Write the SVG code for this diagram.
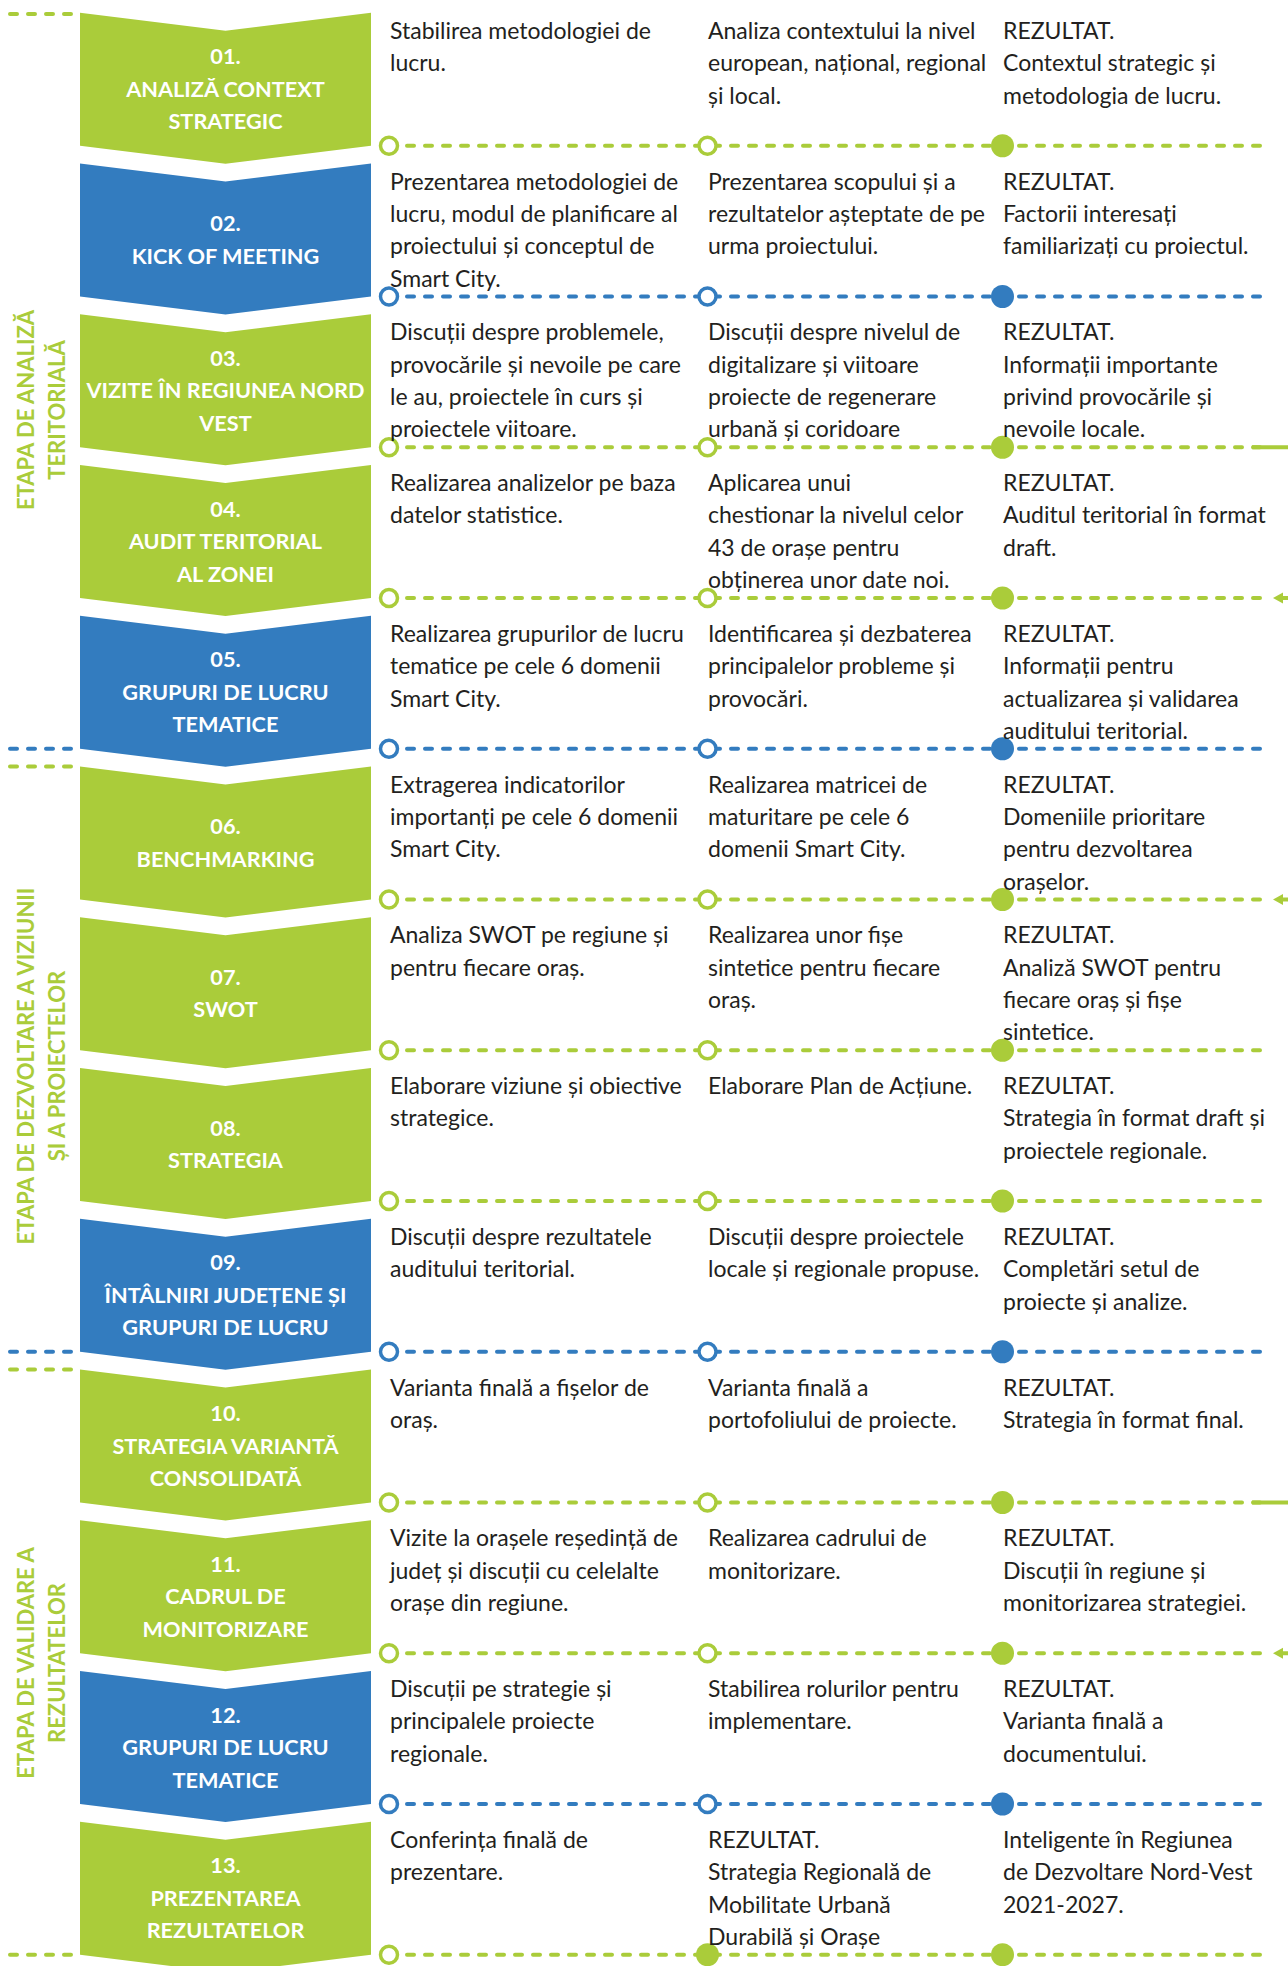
<svg xmlns="http://www.w3.org/2000/svg" width="1288" height="1966" viewBox="0 0 1288 1966">
<defs>
<style>
.bg{fill:#ffffff}
.cg{fill:#AACC3A}
.cb{fill:#337CBF}
.lbl{font-family:Lato,"Liberation Sans",sans-serif;font-weight:bold;font-size:21.7px;fill:#ffffff;text-anchor:middle}
.txt{font-family:Lato,"Liberation Sans",sans-serif;font-size:23px;fill:#231f20}
.stage{font-family:Lato,"Liberation Sans",sans-serif;font-weight:bold;font-size:22px;fill:#AACC3A;text-anchor:middle}
.dg{stroke:#AACC3A;stroke-width:4;stroke-dasharray:7 11;stroke-linecap:round;fill:none}
.db{stroke:#337CBF;stroke-width:4;stroke-dasharray:7 11;stroke-linecap:round;fill:none}
.sg{stroke:#AACC3A;stroke-width:4;fill:none}
.ag{fill:#AACC3A}
.hg{fill:#ffffff;stroke:#AACC3A;stroke-width:3.5}
.hb{fill:#ffffff;stroke:#337CBF;stroke-width:3.5}
.fg{fill:#AACC3A}
.fb{fill:#337CBF}
</style>
</defs>
<rect class="bg" x="0" y="0" width="1288" height="1966"/>

<g id="connectors">
<path class="dg" d="M10,14 H80"/>
<path class="db" d="M10,748.75 H80"/>
<path class="dg" d="M10,766.5 H80"/>
<path class="db" d="M10,1351.75 H80"/>
<path class="dg" d="M10,1369.5 H80"/>
<path class="dg" d="M10,1954.75 H80"/>

<path class="dg" d="M389,145.75 H1261"/>
<path class="db" d="M389,296.5 H1261"/>
<path class="dg" d="M389,447.25 H1261"/>
<path class="sg" d="M1252,447.25 H1288"/>
<path class="dg" d="M389,598 H1261"/>
<path class="sg" d="M1280,598 H1288"/>
<polygon class="ag" points="1273,598 1283,592.5 1283,603.5"/>
<path class="db" d="M389,748.75 H1261"/>
<path class="dg" d="M389,899.5 H1261"/>
<path class="sg" d="M1280,899.5 H1288"/>
<polygon class="ag" points="1273,899.5 1283,894 1283,905"/>
<path class="dg" d="M389,1050.25 H1261"/>
<path class="dg" d="M389,1201 H1261"/>
<path class="db" d="M389,1351.75 H1261"/>
<path class="dg" d="M389,1502.5 H1261"/>
<path class="sg" d="M1252,1502.5 H1288"/>
<path class="dg" d="M389,1653.25 H1261"/>
<path class="sg" d="M1280,1653.25 H1288"/>
<polygon class="ag" points="1273,1653.25 1283,1647.75 1283,1658.75"/>
<path class="db" d="M389,1804 H1261"/>
<path class="dg" d="M389,1954.75 H1261"/>

<circle class="hg" cx="389" cy="145.75" r="8.5"/><circle class="hg" cx="707.5" cy="145.75" r="8.5"/><circle class="fg" cx="1002.5" cy="145.75" r="11.5"/>
<circle class="hb" cx="389" cy="296.5" r="8.5"/><circle class="hb" cx="707.5" cy="296.5" r="8.5"/><circle class="fb" cx="1002.5" cy="296.5" r="11.5"/>
<circle class="hg" cx="389" cy="447.25" r="8.5"/><circle class="hg" cx="707.5" cy="447.25" r="8.5"/><circle class="fg" cx="1002.5" cy="447.25" r="11.5"/>
<circle class="hg" cx="389" cy="598" r="8.5"/><circle class="hg" cx="707.5" cy="598" r="8.5"/><circle class="fg" cx="1002.5" cy="598" r="11.5"/>
<circle class="hb" cx="389" cy="748.75" r="8.5"/><circle class="hb" cx="707.5" cy="748.75" r="8.5"/><circle class="fb" cx="1002.5" cy="748.75" r="11.5"/>
<circle class="hg" cx="389" cy="899.5" r="8.5"/><circle class="hg" cx="707.5" cy="899.5" r="8.5"/><circle class="fg" cx="1002.5" cy="899.5" r="11.5"/>
<circle class="hg" cx="389" cy="1050.25" r="8.5"/><circle class="hg" cx="707.5" cy="1050.25" r="8.5"/><circle class="fg" cx="1002.5" cy="1050.25" r="11.5"/>
<circle class="hg" cx="389" cy="1201" r="8.5"/><circle class="hg" cx="707.5" cy="1201" r="8.5"/><circle class="fg" cx="1002.5" cy="1201" r="11.5"/>
<circle class="hb" cx="389" cy="1351.75" r="8.5"/><circle class="hb" cx="707.5" cy="1351.75" r="8.5"/><circle class="fb" cx="1002.5" cy="1351.75" r="11.5"/>
<circle class="hg" cx="389" cy="1502.5" r="8.5"/><circle class="hg" cx="707.5" cy="1502.5" r="8.5"/><circle class="fg" cx="1002.5" cy="1502.5" r="11.5"/>
<circle class="hg" cx="389" cy="1653.25" r="8.5"/><circle class="hg" cx="707.5" cy="1653.25" r="8.5"/><circle class="fg" cx="1002.5" cy="1653.25" r="11.5"/>
<circle class="hb" cx="389" cy="1804" r="8.5"/><circle class="hb" cx="707.5" cy="1804" r="8.5"/><circle class="fb" cx="1002.5" cy="1804" r="11.5"/>
<circle class="hg" cx="389" cy="1954.75" r="8.5"/><circle class="fg" cx="707.5" cy="1954.75" r="11.5"/><circle class="fg" cx="1002.5" cy="1954.75" r="11.5"/>
</g>

<g id="stage-1">
<text class="stage" transform="translate(34,410) rotate(-90)">ETAPA DE ANALIZĂ</text>
<text class="stage" transform="translate(65,410) rotate(-90)">TERITORIALĂ</text>
</g>
<g id="stage-2">
<text class="stage" transform="translate(34,1066) rotate(-90)">ETAPA DE DEZVOLTARE A VIZIUNII</text>
<text class="stage" transform="translate(65,1066) rotate(-90)">ȘI A PROIECTELOR</text>
</g>
<g id="stage-3">
<text class="stage" transform="translate(34,1663) rotate(-90)">ETAPA DE VALIDARE A</text>
<text class="stage" transform="translate(65,1663) rotate(-90)">REZULTATELOR</text>
</g>

<g id="step-01">
<path class="cg" d="M80,12.75 L225.5,30.75 L371,12.75 L371,145.75 L225.5,163.75 L80,145.75 Z"/>
<text class="lbl"><tspan x="225.5" y="64.25">01.</tspan><tspan x="225.5" y="96.75">ANALIZĂ CONTEXT</tspan><tspan x="225.5" y="129.25">STRATEGIC</tspan></text>
</g>
<g id="step-02">
<path class="cb" d="M80,163.5 L225.5,181.5 L371,163.5 L371,296.5 L225.5,314.5 L80,296.5 Z"/>
<text class="lbl"><tspan x="225.5" y="231">02.</tspan><tspan x="225.5" y="263.5">KICK OF MEETING</tspan></text>
</g>
<g id="step-03">
<path class="cg" d="M80,314.25 L225.5,332.25 L371,314.25 L371,447.25 L225.5,465.25 L80,447.25 Z"/>
<text class="lbl"><tspan x="225.5" y="365.75">03.</tspan><tspan x="225.5" y="398.25">VIZITE ÎN REGIUNEA NORD</tspan><tspan x="225.5" y="430.75">VEST</tspan></text>
</g>
<g id="step-04">
<path class="cg" d="M80,465 L225.5,483 L371,465 L371,598 L225.5,616 L80,598 Z"/>
<text class="lbl"><tspan x="225.5" y="516.5">04.</tspan><tspan x="225.5" y="549">AUDIT TERITORIAL</tspan><tspan x="225.5" y="581.5">AL ZONEI</tspan></text>
</g>
<g id="step-05">
<path class="cb" d="M80,615.75 L225.5,633.75 L371,615.75 L371,748.75 L225.5,766.75 L80,748.75 Z"/>
<text class="lbl"><tspan x="225.5" y="667.25">05.</tspan><tspan x="225.5" y="699.75">GRUPURI DE LUCRU</tspan><tspan x="225.5" y="732.25">TEMATICE</tspan></text>
</g>
<g id="step-06">
<path class="cg" d="M80,766.5 L225.5,784.5 L371,766.5 L371,899.5 L225.5,917.5 L80,899.5 Z"/>
<text class="lbl"><tspan x="225.5" y="834">06.</tspan><tspan x="225.5" y="866.5">BENCHMARKING</tspan></text>
</g>
<g id="step-07">
<path class="cg" d="M80,917.25 L225.5,935.25 L371,917.25 L371,1050.25 L225.5,1068.25 L80,1050.25 Z"/>
<text class="lbl"><tspan x="225.5" y="984.75">07.</tspan><tspan x="225.5" y="1017.25">SWOT</tspan></text>
</g>
<g id="step-08">
<path class="cg" d="M80,1068 L225.5,1086 L371,1068 L371,1201 L225.5,1219 L80,1201 Z"/>
<text class="lbl"><tspan x="225.5" y="1135.5">08.</tspan><tspan x="225.5" y="1168">STRATEGIA</tspan></text>
</g>
<g id="step-09">
<path class="cb" d="M80,1218.75 L225.5,1236.75 L371,1218.75 L371,1351.75 L225.5,1369.75 L80,1351.75 Z"/>
<text class="lbl"><tspan x="225.5" y="1270.25">09.</tspan><tspan x="225.5" y="1302.75">ÎNTÂLNIRI JUDEȚENE ȘI</tspan><tspan x="225.5" y="1335.25">GRUPURI DE LUCRU</tspan></text>
</g>
<g id="step-10">
<path class="cg" d="M80,1369.5 L225.5,1387.5 L371,1369.5 L371,1502.5 L225.5,1520.5 L80,1502.5 Z"/>
<text class="lbl"><tspan x="225.5" y="1421">10.</tspan><tspan x="225.5" y="1453.5">STRATEGIA VARIANTĂ</tspan><tspan x="225.5" y="1486">CONSOLIDATĂ</tspan></text>
</g>
<g id="step-11">
<path class="cg" d="M80,1520.25 L225.5,1538.25 L371,1520.25 L371,1653.25 L225.5,1671.25 L80,1653.25 Z"/>
<text class="lbl"><tspan x="225.5" y="1571.75">11.</tspan><tspan x="225.5" y="1604.25">CADRUL DE</tspan><tspan x="225.5" y="1636.75">MONITORIZARE</tspan></text>
</g>
<g id="step-12">
<path class="cb" d="M80,1671 L225.5,1689 L371,1671 L371,1804 L225.5,1822 L80,1804 Z"/>
<text class="lbl"><tspan x="225.5" y="1722.5">12.</tspan><tspan x="225.5" y="1755">GRUPURI DE LUCRU</tspan><tspan x="225.5" y="1787.5">TEMATICE</tspan></text>
</g>
<g id="step-13">
<path class="cg" d="M80,1821.75 L225.5,1839.75 L371,1821.75 L371,1954.75 L225.5,1972.75 L80,1954.75 Z"/>
<text class="lbl"><tspan x="225.5" y="1873.25">13.</tspan><tspan x="225.5" y="1905.75">PREZENTAREA</tspan><tspan x="225.5" y="1938.25">REZULTATELOR</tspan></text>
</g>

<g id="row-01-text">
<text class="txt" y="38.75"><tspan x="390">Stabilirea metodologiei de</tspan><tspan x="390" dy="32.4">lucru.</tspan></text>
<text class="txt" y="38.75"><tspan x="708">Analiza contextului la nivel</tspan><tspan x="708" dy="32.4">european, național, regional</tspan><tspan x="708" dy="32.4">și local.</tspan></text>
<text class="txt" y="38.75"><tspan x="1003">REZULTAT.</tspan><tspan x="1003" dy="32.4">Contextul strategic și</tspan><tspan x="1003" dy="32.4">metodologia de lucru.</tspan></text>
</g>
<g id="row-02-text">
<text class="txt" y="189.5"><tspan x="390">Prezentarea metodologiei de</tspan><tspan x="390" dy="32.4">lucru, modul de planificare al</tspan><tspan x="390" dy="32.4">proiectului și conceptul de</tspan><tspan x="390" dy="32.4">Smart City.</tspan></text>
<text class="txt" y="189.5"><tspan x="708">Prezentarea scopului și a</tspan><tspan x="708" dy="32.4">rezultatelor așteptate de pe</tspan><tspan x="708" dy="32.4">urma proiectului.</tspan></text>
<text class="txt" y="189.5"><tspan x="1003">REZULTAT.</tspan><tspan x="1003" dy="32.4">Factorii interesați</tspan><tspan x="1003" dy="32.4">familiarizați cu proiectul.</tspan></text>
</g>
<g id="row-03-text">
<text class="txt" y="340.25"><tspan x="390">Discuții despre problemele,</tspan><tspan x="390" dy="32.4">provocările și nevoile pe care</tspan><tspan x="390" dy="32.4">le au, proiectele în curs și</tspan><tspan x="390" dy="32.4">proiectele viitoare.</tspan></text>
<text class="txt" y="340.25"><tspan x="708">Discuții despre nivelul de</tspan><tspan x="708" dy="32.4">digitalizare și viitoare</tspan><tspan x="708" dy="32.4">proiecte de regenerare</tspan><tspan x="708" dy="32.4">urbană și coridoare</tspan></text>
<text class="txt" y="340.25"><tspan x="1003">REZULTAT.</tspan><tspan x="1003" dy="32.4">Informații importante</tspan><tspan x="1003" dy="32.4">privind provocările și</tspan><tspan x="1003" dy="32.4">nevoile locale.</tspan></text>
</g>
<g id="row-04-text">
<text class="txt" y="491"><tspan x="390">Realizarea analizelor pe baza</tspan><tspan x="390" dy="32.4">datelor statistice.</tspan></text>
<text class="txt" y="491"><tspan x="708">Aplicarea unui</tspan><tspan x="708" dy="32.4">chestionar la nivelul celor</tspan><tspan x="708" dy="32.4">43 de orașe pentru</tspan><tspan x="708" dy="32.4">obținerea unor date noi.</tspan></text>
<text class="txt" y="491"><tspan x="1003">REZULTAT.</tspan><tspan x="1003" dy="32.4">Auditul teritorial în format</tspan><tspan x="1003" dy="32.4">draft.</tspan></text>
</g>
<g id="row-05-text">
<text class="txt" y="641.75"><tspan x="390">Realizarea grupurilor de lucru</tspan><tspan x="390" dy="32.4">tematice pe cele 6 domenii</tspan><tspan x="390" dy="32.4">Smart City.</tspan></text>
<text class="txt" y="641.75"><tspan x="708">Identificarea și dezbaterea</tspan><tspan x="708" dy="32.4">principalelor probleme și</tspan><tspan x="708" dy="32.4">provocări.</tspan></text>
<text class="txt" y="641.75"><tspan x="1003">REZULTAT.</tspan><tspan x="1003" dy="32.4">Informații pentru</tspan><tspan x="1003" dy="32.4">actualizarea și validarea</tspan><tspan x="1003" dy="32.4">auditului teritorial.</tspan></text>
</g>
<g id="row-06-text">
<text class="txt" y="792.5"><tspan x="390">Extragerea indicatorilor</tspan><tspan x="390" dy="32.4">importanți pe cele 6 domenii</tspan><tspan x="390" dy="32.4">Smart City.</tspan></text>
<text class="txt" y="792.5"><tspan x="708">Realizarea matricei de</tspan><tspan x="708" dy="32.4">maturitare pe cele 6</tspan><tspan x="708" dy="32.4">domenii Smart City.</tspan></text>
<text class="txt" y="792.5"><tspan x="1003">REZULTAT.</tspan><tspan x="1003" dy="32.4">Domeniile prioritare</tspan><tspan x="1003" dy="32.4">pentru dezvoltarea</tspan><tspan x="1003" dy="32.4">orașelor.</tspan></text>
</g>
<g id="row-07-text">
<text class="txt" y="943.25"><tspan x="390">Analiza SWOT pe regiune și</tspan><tspan x="390" dy="32.4">pentru fiecare oraș.</tspan></text>
<text class="txt" y="943.25"><tspan x="708">Realizarea unor fișe</tspan><tspan x="708" dy="32.4">sintetice pentru fiecare</tspan><tspan x="708" dy="32.4">oraș.</tspan></text>
<text class="txt" y="943.25"><tspan x="1003">REZULTAT.</tspan><tspan x="1003" dy="32.4">Analiză SWOT pentru</tspan><tspan x="1003" dy="32.4">fiecare oraș și fișe</tspan><tspan x="1003" dy="32.4">sintetice.</tspan></text>
</g>
<g id="row-08-text">
<text class="txt" y="1094"><tspan x="390">Elaborare viziune și obiective</tspan><tspan x="390" dy="32.4">strategice.</tspan></text>
<text class="txt" y="1094"><tspan x="708">Elaborare Plan de Acțiune.</tspan></text>
<text class="txt" y="1094"><tspan x="1003">REZULTAT.</tspan><tspan x="1003" dy="32.4">Strategia în format draft și</tspan><tspan x="1003" dy="32.4">proiectele regionale.</tspan></text>
</g>
<g id="row-09-text">
<text class="txt" y="1244.75"><tspan x="390">Discuții despre rezultatele</tspan><tspan x="390" dy="32.4">auditului teritorial.</tspan></text>
<text class="txt" y="1244.75"><tspan x="708">Discuții despre proiectele</tspan><tspan x="708" dy="32.4">locale și regionale propuse.</tspan></text>
<text class="txt" y="1244.75"><tspan x="1003">REZULTAT.</tspan><tspan x="1003" dy="32.4">Completări setul de</tspan><tspan x="1003" dy="32.4">proiecte și analize.</tspan></text>
</g>
<g id="row-10-text">
<text class="txt" y="1395.5"><tspan x="390">Varianta finală a fișelor de</tspan><tspan x="390" dy="32.4">oraș.</tspan></text>
<text class="txt" y="1395.5"><tspan x="708">Varianta finală a</tspan><tspan x="708" dy="32.4">portofoliului de proiecte.</tspan></text>
<text class="txt" y="1395.5"><tspan x="1003">REZULTAT.</tspan><tspan x="1003" dy="32.4">Strategia în format final.</tspan></text>
</g>
<g id="row-11-text">
<text class="txt" y="1546.25"><tspan x="390">Vizite la orașele reședință de</tspan><tspan x="390" dy="32.4">județ și discuții cu celelalte</tspan><tspan x="390" dy="32.4">orașe din regiune.</tspan></text>
<text class="txt" y="1546.25"><tspan x="708">Realizarea cadrului de</tspan><tspan x="708" dy="32.4">monitorizare.</tspan></text>
<text class="txt" y="1546.25"><tspan x="1003">REZULTAT.</tspan><tspan x="1003" dy="32.4">Discuții în regiune și</tspan><tspan x="1003" dy="32.4">monitorizarea strategiei.</tspan></text>
</g>
<g id="row-12-text">
<text class="txt" y="1697"><tspan x="390">Discuții pe strategie și</tspan><tspan x="390" dy="32.4">principalele proiecte</tspan><tspan x="390" dy="32.4">regionale.</tspan></text>
<text class="txt" y="1697"><tspan x="708">Stabilirea rolurilor pentru</tspan><tspan x="708" dy="32.4">implementare.</tspan></text>
<text class="txt" y="1697"><tspan x="1003">REZULTAT.</tspan><tspan x="1003" dy="32.4">Varianta finală a</tspan><tspan x="1003" dy="32.4">documentului.</tspan></text>
</g>
<g id="row-13-text">
<text class="txt" y="1847.75"><tspan x="390">Conferința finală de</tspan><tspan x="390" dy="32.4">prezentare.</tspan></text>
<text class="txt" y="1847.75"><tspan x="708">REZULTAT.</tspan><tspan x="708" dy="32.4">Strategia Regională de</tspan><tspan x="708" dy="32.4">Mobilitate Urbană</tspan><tspan x="708" dy="32.4">Durabilă și Orașe</tspan></text>
<text class="txt" y="1847.75"><tspan x="1003">Inteligente în Regiunea</tspan><tspan x="1003" dy="32.4">de Dezvoltare Nord-Vest</tspan><tspan x="1003" dy="32.4">2021-2027.</tspan></text>
</g>
</svg>
